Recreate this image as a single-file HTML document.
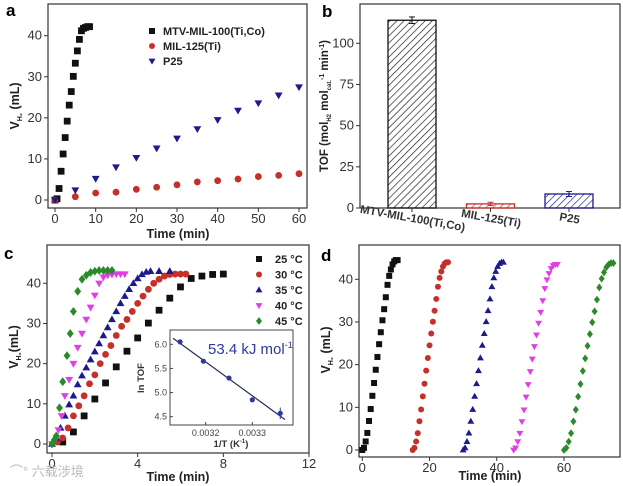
<!DOCTYPE html>
<html><head><meta charset="utf-8"><style>
body{margin:0;background:#fff}
svg{display:block;font-family:"Liberation Sans",Arial,sans-serif}
</style></head><body>
<svg id="fig" width="623" height="486" viewBox="0 0 623 486"></svg>
<script>
// ---- Panel a data ----
const aMtvT=[0,0.5,1,1.5,2,2.5,3,3.5,4,4.5,5,5.5,6,6.5,7,7.5,8,8.5];
const aMtvV=[0,0.3,2.8,7,11.2,15.2,19.2,23.1,26.4,30.1,33.3,36.3,39.1,41.2,41.8,42,42.2,42.2];
const aMilT=[0,5,10,15,20,25,30,35,40,45,50,55,60];
const aMilV=[0,0.8,1.7,1.9,2.6,3.1,3.7,4.4,4.7,5.1,5.7,6.0,6.4];
const aP25T=[0,5,10,15,20,25,30,35,40,45,50,55,60];
const aP25V=[0,2.4,5.2,8,10.3,12.6,15,17.3,19.5,21.8,23.6,25.5,27.5];
const aXTicks=[0,10,20,30,40,50,60];
const aYTicks=[0,10,20,30,40];
// ---- Panel b data ----
const bCats=["MTV-MIL-100(Ti,Co)","MIL-125(Ti)","P25"];
const bVals=[114,2.5,8.5];
const bErrs=[2,1,1.5];
const bYTicks=[0,25,50,75,100];
// ---- Panel c data ----
const c25T=[0.5,1,1.5,2,2.5,3,3.5,4,4.5,5,5.5,6,6.5,7,7.5,8];
const c25V=[0.5,3,7,11.2,15.2,19.2,23.1,26.4,30.1,33.3,36.3,39.1,41.2,41.8,42.2,42.3];
const c30T=[0.25,0.5,0.75,1,1.25,1.5,1.75,2,2.25,2.5,2.75,3,3.25,3.5,3.75,4,4.25,4.5,4.75,5,5.25,5.5,5.75,6,6.25];
const c30V=[0.5,1.5,4,7,9.5,12,15,17.2,20,22.3,24.5,27,29.3,31,33,35,36.8,38.5,40,41,41.8,42.2,42.3,42.3,42.3];
const c35T=[0,0.2,0.4,0.6,0.8,1,1.2,1.4,1.6,1.8,2,2.2,2.4,2.6,2.8,3,3.2,3.4,3.6,3.8,4,4.2,4.4,4.6,5,5.5];
const c35V=[0,1.5,4,7,9.8,12,14.8,17,19,21,23,25,27,29,31,33,35,36.8,38.5,40,41.2,42.2,42.8,43,43,43];
const c40T=[0,0.2,0.3,0.45,0.6,0.8,1,1.2,1.4,1.6,1.8,2,2.2,2.4,2.6,2.8,3,3.2,3.4];
const c40V=[0,1.5,3.5,7,12,16,20,24,27.5,31,34,37,40,41.5,42,42.2,42.3,42.3,42.3];
const c45T=[0,0.1,0.2,0.35,0.5,0.7,0.85,1,1.2,1.4,1.6,1.8,2,2.2,2.4,2.6,2.8];
const c45V=[0,1,2,9,15.5,22,27.5,33,38,41,42,42.7,43,43.2,43.2,43.2,43.2];
const cXTicks=[0,4,8,12];
const cYTicks=[0,10,20,30,40];
const insX=[0.003145,0.003195,0.00325,0.0033,0.00336];
const insY=[6.05,5.65,5.3,4.85,4.57];
const insErr=[0.03,0.03,0.03,0.05,0.12];
const insXTicks=[0.0032,0.0033];
const insYTicks=[4.5,5.0,5.5,6.0];
// ---- Panel d data ----
const dStarts=[0,15,30,45,60];
const dSteps=[0.5,0.5,0.57,0.62,0.7];
const dPlateau=[44.5,44,44,43.5,43.8];
const dProfile=[0,0.5,2,4,6.8,9.6,12.7,15.7,18.8,21.8,24.8,27.6,30.4,33,35.8,38.7,40.8,42.3,43.5,44.2,44.5,44.5];
const dXTicks=[0,20,40,60];
const dYTicks=[0,10,20,30,40];

const svg=document.getElementById('fig');
const NS='http://www.w3.org/2000/svg';
function el(tag,attrs,parent,txt){const e=document.createElementNS(NS,tag);for(const k in attrs)e.setAttribute(k,attrs[k]);if(txt!==undefined)e.textContent=txt;(parent||svg).appendChild(e);return e;}
function lin(d0,d1,r0,r1){return v=>r0+(v-d0)*(r1-r0)/(d1-d0);}
function marker(g,shape,x,y,c,s){
 s=s||3.4;let m;
 if(shape==='sq')m=el('rect',{x:x-s,y:y-s,width:2*s,height:2*s,fill:c},g);
 else if(shape==='ci')m=el('circle',{cx:x,cy:y,r:s,fill:c},g);
 else if(shape==='up')m=el('polygon',{points:`${x},${y-s*1.2} ${x-s*1.15},${y+s*0.8} ${x+s*1.15},${y+s*0.8}`,fill:c},g);
 else if(shape==='dn')m=el('polygon',{points:`${x},${y+s*1.2} ${x-s*1.15},${y-s*0.8} ${x+s*1.15},${y-s*0.8}`,fill:c},g);
 else m=el('polygon',{points:`${x},${y-s*1.3} ${x+s},${y} ${x},${y+s*1.3} ${x-s},${y}`,fill:c},g);
 return m;
}
function axes(g,L,T,R,B,xs,xt,ys,yt,fs,xfmt,yfmt){
 el('rect',{x:L,y:T,width:R-L,height:B-T,fill:'none',stroke:'#333','stroke-width':1.2},g);
 xt.forEach(v=>{const x=xs(v);el('line',{x1:x,y1:B,x2:x,y2:B+4,stroke:'#333'},g);
  const lb=el('text',{x:x,y:B+15,'font-size':fs,'text-anchor':'middle',fill:'#333'},g,xfmt?xfmt(v):v);
  });
 yt.forEach(v=>{const y=ys(v);el('line',{x1:L-4,y1:y,x2:L,y2:y,stroke:'#333'},g);
  const lb=el('text',{x:L-6,y:y+4,'font-size':fs,'text-anchor':'end',fill:'#333'},g,yfmt?yfmt(v):v);
  });
}
function series(g,T,V,xs,ys,shape,c,name,s){
 const sg=el('g',{},g);
 T.forEach((t,i)=>{const m=marker(sg,shape,xs(t),ys(V[i]),c,s);});
}
const BK='#111',RD='#c62f2a',NV='#1d1a8e',MG='#e23ee6',GR='#2a8a2a';

// ===== Panel a =====
{const g=el('g',{});
 const xs=lin(0,60,55,299),ys=lin(0,40,200,35.7);
 axes(g,48,4,307,208,xs,aXTicks,ys,aYTicks,13);
 series(g,aMtvT,aMtvV,xs,ys,'sq',BK,'series-mtv');
 series(g,aMilT,aMilV,xs,ys,'ci',RD,'series-mil125');
 series(g,aP25T,aP25V,xs,ys,'dn',NV,'series-p25');
 [['sq',BK,'MTV-MIL-100(Ti,Co)'],['ci',RD,'MIL-125(Ti)'],['dn',NV,'P25']].forEach((l,i)=>{
  const lg=el('g',{},g);
  marker(lg,l[0],152,31+i*15,l[1],3);el('text',{x:163,y:35+i*15,'font-size':11,'font-weight':'bold',fill:'#222'},lg,l[2]);});
 const xt=el('text',{x:178,y:238,'font-size':12.5,'font-weight':'bold','text-anchor':'middle',fill:'#222'},g,'Time (min)');
 const yt=el('text',{transform:'translate(19,106) rotate(-90)','font-size':12.5,'font-weight':'bold','text-anchor':'middle',fill:'#222'},g);
 
 yt.innerHTML='V<tspan font-size="7" dy="3">H₂</tspan><tspan dy="-3"> (mL)</tspan>';
 const pl=el('text',{x:6,y:16,'font-size':17,'font-weight':'bold'},g,'a');
}
// ===== Panel b =====
{const g=el('g',{});
 const defs=el('defs',{},g);
 [['hk',BK],['hr',RD],['hb',NV]].forEach(p=>{const pt=el('pattern',{id:p[0],width:5,height:5,patternUnits:'userSpaceOnUse',patternTransform:'rotate(45)'},defs);el('line',{x1:0,y1:0,x2:0,y2:5,stroke:p[1],'stroke-width':1.3},pt);});
 const ys=lin(0,100,208,43.3);const L=360,R=620;
 el('rect',{x:L,y:4,width:R-L,height:204,fill:'none',stroke:'#333','stroke-width':1.2},g);
 bYTicks.forEach(v=>{const y=ys(v);el('line',{x1:L-4,y1:y,x2:L,y2:y,stroke:'#333'},g);
  const lb=el('text',{x:L-6,y:y+4,'font-size':13,'text-anchor':'end',fill:'#333'},g,v);});
 const xc=i=>412+i*78.5,cols=[BK,RD,NV],pats=['hk','hr','hb'];
 bCats.forEach((c,i)=>{const x=xc(i);const bg=el('g',{},g);
  el('rect',{x:x-24,y:ys(bVals[i]),width:48,height:208-ys(bVals[i]),fill:'url(#'+pats[i]+')',stroke:cols[i],'stroke-width':1.3},bg);
  const e1=ys(bVals[i]+bErrs[i]),e0=ys(bVals[i]-bErrs[i]);
  el('line',{x1:x,y1:e1,x2:x,y2:e0,stroke:cols[i]},bg);el('line',{x1:x-3,y1:e1,x2:x+3,y2:e1,stroke:cols[i]},bg);el('line',{x1:x-3,y1:e0,x2:x+3,y2:e0,stroke:cols[i]},bg);
  el('line',{x1:x,y1:208,x2:x,y2:212,stroke:'#333'},g);
  const lb=el('text',{transform:`translate(${x},222) rotate(10)`,'font-size':11.5,'font-weight':'bold','text-anchor':'middle',fill:'#333'},g,c);});
 const yt=el('text',{transform:'translate(328,106) rotate(-90)','font-size':11.5,'font-weight':'bold','text-anchor':'middle',fill:'#222'},g);
 
 yt.innerHTML='TOF (mol<tspan font-size="6" dy="3">H2</tspan><tspan dy="-3"> mol</tspan><tspan font-size="6" dy="3">cat.</tspan><tspan font-size="7" dy="-7">-1</tspan><tspan dy="4"> min</tspan><tspan font-size="7" dy="-4">-1</tspan><tspan dy="4">)</tspan>';
 const pl=el('text',{x:322,y:17,'font-size':17,'font-weight':'bold'},g,'b');
}
// ===== Panel c =====
{const g=el('g',{});
 const xs=lin(0,12,52,309),ys=lin(0,40,444,283.3);
 axes(g,47,245,309,453,xs,cXTicks,ys,cYTicks,13);
 series(g,c25T,c25V,xs,ys,'sq',BK,'series-25c');
 series(g,c30T,c30V,xs,ys,'ci',RD,'series-30c');
 series(g,c35T,c35V,xs,ys,'up',NV,'series-35c');
 series(g,c40T,c40V,xs,ys,'dn',MG,'series-40c');
 series(g,c45T,c45V,xs,ys,'di',GR,'series-45c');
 [['sq',BK,'25 °C'],['ci',RD,'30 °C'],['up',NV,'35 °C'],['dn',MG,'40 °C'],['di',GR,'45 °C']].forEach((l,i)=>{
  const lg=el('g',{},g);
  marker(lg,l[0],259,259+i*15.5,l[1],3);el('text',{x:275,y:263+i*15.5,'font-size':11,'font-weight':'bold',fill:'#222'},lg,l[2]);});
 const ig=el('g',{},g);
 const ixs=lin(0.0032,0.0033,205.7,252.3),iys=lin(4.5,6.0,416.7,344.3);
 el('rect',{x:170,y:330,width:123,height:95,fill:'#fff',stroke:'#444'},ig);
 insXTicks.forEach(v=>{const x=ixs(v);el('line',{x1:x,y1:425,x2:x,y2:422,stroke:'#444'},ig);const t=el('text',{x:x,y:436,'font-size':9,'text-anchor':'middle',fill:'#444'},ig,v.toFixed(4));});
 insYTicks.forEach(v=>{const y=iys(v);el('line',{x1:170,y1:y,x2:173,y2:y,stroke:'#444'},ig);const t=el('text',{x:167,y:y+3,'font-size':9,'text-anchor':'end',fill:'#444'},ig,v.toFixed(1));});
 const n=insX.length;let mx=insX.reduce((a,b)=>a+b)/n,my=insY.reduce((a,b)=>a+b)/n;let sxy=0,sxx=0;insX.forEach((x,i)=>{sxy+=(x-mx)*(insY[i]-my);sxx+=(x-mx)*(x-mx);});const sl=sxy/sxx;
 const fx0=0.00313,fx1=0.00337;
 const fl=el('line',{x1:ixs(fx0),y1:iys(my+sl*(fx0-mx)),x2:ixs(fx1),y2:iys(my+sl*(fx1-mx)),stroke:'#2a2a5a','stroke-width':1.2},ig);
 insX.forEach((x,i)=>{const px=ixs(x);el('line',{x1:px,y1:iys(insY[i]+insErr[i]),x2:px,y2:iys(insY[i]-insErr[i]),stroke:'#2b3a9c'},ig);const m=el('circle',{cx:px,cy:iys(insY[i]),r:2.6,fill:'#2b3a9c'},ig);});
 const ea=el('text',{x:208,y:354,'font-size':15,fill:'#2b3a9c'},ig);ea.innerHTML='53.4 kJ mol<tspan font-size="9" dy="-6">-1</tspan>';
 const ixt=el('text',{x:231,y:447,'font-size':9.5,'font-weight':'bold','text-anchor':'middle',fill:'#333'},ig);ixt.innerHTML='1/T (K<tspan font-size="6" dy="-4">-1</tspan><tspan dy="4">)</tspan>';
 const iyt=el('text',{transform:'translate(144,378) rotate(-90)','font-size':9.5,'font-weight':'bold','text-anchor':'middle',fill:'#333'},ig,'ln TOF');
 const xt=el('text',{x:178,y:481,'font-size':12.5,'font-weight':'bold','text-anchor':'middle',fill:'#222'},g,'Time (min)');
 const yt=el('text',{transform:'translate(18,347) rotate(-90)','font-size':12.5,'font-weight':'bold','text-anchor':'middle',fill:'#222'},g);
 yt.innerHTML='V<tspan font-size="7" dy="3">H₂</tspan><tspan dy="-3">(mL)</tspan>';
 const pl=el('text',{x:4,y:259,'font-size':17,'font-weight':'bold'},g,'c');
 const wm=el('text',{x:10,y:476,'font-size':13,fill:'#bbb','font-family':'"Liberation Sans","Noto Sans CJK SC",sans-serif'},g,'⌒° 六载涉境');
}
// ===== Panel d =====
{const g=el('g',{});
 const xs=lin(0,60,362.3,564),ys=lin(0,40,450,279.3);
 axes(g,359,245,620,457,xs,dXTicks,ys,dYTicks,13);
 const shapes=['sq','ci','up','dn','di'],cols=[BK,RD,NV,MG,GR];
 dStarts.forEach((s,c)=>{const T=dProfile.map((_,i)=>s+i*dSteps[c]);const V=dProfile.map(v=>v*dPlateau[c]/44.5);series(g,T,V,xs,ys,shapes[c],cols[c],'cycle-'+(c+1),3);});
 const xt=el('text',{x:490,y:480,'font-size':12.5,'font-weight':'bold','text-anchor':'middle',fill:'#222'},g,'Time (min)');
 const yt=el('text',{transform:'translate(330,350) rotate(-90)','font-size':12.5,'font-weight':'bold','text-anchor':'middle',fill:'#222'},g);
 yt.innerHTML='V<tspan font-size="7" dy="3">H₂</tspan><tspan dy="-3"> (mL)</tspan>';
 const pl=el('text',{x:321,y:261,'font-size':17,'font-weight':'bold'},g,'d');
}
</script>
</body></html>
